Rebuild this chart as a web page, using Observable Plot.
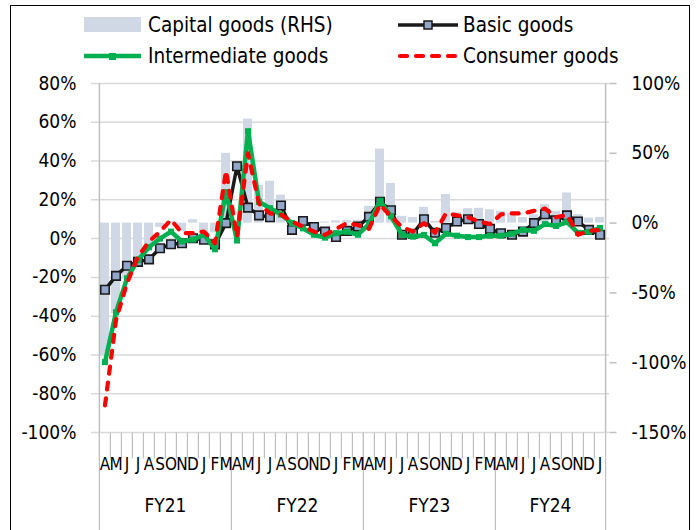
<!DOCTYPE html>
<html><head><meta charset="utf-8">
<script src="https://cdn.jsdelivr.net/npm/d3@7"></script>
<script src="https://cdn.jsdelivr.net/npm/@observablehq/plot@0.6"></script>
<style>
body{margin:0;background:#fff;}
#wrap{position:relative;width:699px;height:530px;overflow:hidden;font-family:"Liberation Sans Narrow","Arial Narrow","DejaVu Sans Condensed",sans-serif;}
#frame{position:absolute;left:10px;top:5px;width:680px;height:560px;border:1px solid #000;box-sizing:border-box;}
#chart{position:absolute;left:0;top:0;}
#legend{position:absolute;left:0;top:0;}
</style></head><body>
<div id="wrap"><div id="frame"></div><div id="chart"></div><svg id="legend" width="699" height="75"></svg></div>
<script>
// ---- data ----
const months = [
 "2020-04","2020-05","2020-06","2020-07","2020-08","2020-09","2020-10","2020-11","2020-12","2021-01","2021-02","2021-03",
 "2021-04","2021-05","2021-06","2021-07","2021-08","2021-09","2021-10","2021-11","2021-12","2022-01","2022-02","2022-03",
 "2022-04","2022-05","2022-06","2022-07","2022-08","2022-09","2022-10","2022-11","2022-12","2023-01","2023-02","2023-03",
 "2023-04","2023-05","2023-06","2023-07","2023-08","2023-09","2023-10","2023-11","2023-12","2024-01"];
const monthLabels = ["A","M","J","J","A","S","O","N","D","J","F","M",
 "A","M","J","J","A","S","O","N","D","J","F","M",
 "A","M","J","J","A","S","O","N","D","J","F","M",
 "A","M","J","J","A","S","O","N","D","J"];
const fiscalYears = ["FY21","FY22","FY23","FY24"];
const fiscalYearMonths = [12,12,12,10];
// Capital goods (RHS), % YoY
const capitalGoods = [-95,-65,-40,-26,-18,-3,1,-6,2.4,-9,-7,50,
 null,74.5,27,30,20,-1,0.5,-1,0.8,1.7,1.7,2,
 12,53,28.4,4.8,4,11.3,1.2,20.5,7.5,10.4,10.6,9.6,
 8.4,7,4,6,13.2,8.4,21.6,6,3.6,4.1];
// Basic goods (LHS)
const basicGoods = [-26.4,-19.2,-14,-12,-10.7,-5,-2.9,-2.4,0.2,-0.6,-3,8,
 37.3,16,12,11,17.1,4.5,9.1,6,3.6,0.8,4,6.2,
 11.2,19,14.6,2,2.5,10,3,5.5,8.8,10,7.5,5,
 2.8,2,3.6,8,12.6,9.5,12,8.8,4.5,2];
// Intermediate goods (LHS)
const intermediateGoods = [-63.7,-38,-20.5,-11,-4.5,0,3.6,-1.5,-0.5,2,-5.5,24,
 -1,55.4,19,15.7,12.4,8,5.3,2,0.5,2.8,3.6,2,
 7.5,19.5,11.5,2,1,1.9,-2.4,2.5,1.5,0.8,0.8,1.5,
 1.5,2.5,4.5,4,7.5,6.5,8.5,3,3.5,5.5];
// Consumer goods (LHS)
const consumerGoods = [-86,-42,-23,-9.3,-1.5,3.6,9.7,2.8,2.8,3.6,-2.4,35,
 1,44,18,13,12.4,8.8,6.2,3.6,1.9,5,8,7,
 5,17.5,11.4,6,3.6,8,3,13,12,11,8.8,7.5,
 12.5,13,13,14.3,15.5,11,12.3,2,4,4.5];
const leftTicks = [80,60,40,20,0,-20,-40,-60,-80,-100];
const rightTicks = [100,50,0,-50,-100,-150];

// ---- layout ----
const W = 699, H = 530, ML = 95, MR = 90, MT = 83, MB = 98;
const leftDomain = [-100, 80], rightDomain = [-150, 100];
const toLeft = v => leftDomain[0] + (v - rightDomain[0]) * (leftDomain[1]-leftDomain[0]) / (rightDomain[1]-rightDomain[0]);
const n = months.length;
const step = (W - ML - MR) / n;

const rows = months.map((m, i) => ({m, lab: monthLabels[i], cap: capitalGoods[i], basic: basicGoods[i], inter: intermediateGoods[i], cons: consumerGoods[i]}));
let start = 0;
const fy = fiscalYears.map((name, k) => { const s = start; start += fiscalYearMonths[k]; return {name, first: months[s], mid: months[s + fiscalYearMonths[k]/2], end: months[s + fiscalYearMonths[k] - 1]}; });

const font = '"Liberation Sans Narrow","Arial Narrow","DejaVu Sans Condensed",sans-serif';
const barColor = "#d0d8e6", gridColor = "#d9d9d9", axisColor = "#bfbfbf";
const blueGray = "#93a7cb", green = "#00b050", red = "#ff0000", black = "#1a1a1a";

const vline = len => ({draw(ctx){ ctx.moveTo(0,0); ctx.lineTo(0,len); }});
const hline = len => ({draw(ctx){ ctx.moveTo(0,0); ctx.lineTo(len,0); }});

const chart = Plot.plot({
  width: W, height: H, marginLeft: ML, marginRight: MR, marginTop: MT, marginBottom: MB,
  x: {type: "band", domain: months, paddingInner: 0.18, paddingOuter: 0.09, axis: null},
  y: {domain: leftDomain, axis: null},
  style: {fontFamily: font, fontSize: "18px", color: "#000", background: "transparent", overflow: "visible"},
  marks: [
    Plot.ruleY(leftTicks, {stroke: gridColor, strokeWidth: 1.5, insetLeft: -4}),
    Plot.rectY(rows.filter(d => d.cap != null), {x: "m", y1: () => toLeft(0), y2: d => toLeft(d.cap), fill: barColor}),
    // left axis line
    Plot.ruleX([months[0]], {dx: -step/2, stroke: axisColor, strokeWidth: 1.5}),
    // right axis line + ticks
    Plot.ruleX([months[n-1]], {dx: step/2, stroke: axisColor, strokeWidth: 1.5}),
    Plot.dot(rightTicks, {y: d => toLeft(d), frameAnchor: "right", symbol: hline(7), stroke: axisColor, strokeWidth: 1.5}),
    // month dividers & fiscal-year separators below the plot
    Plot.dot(months, {x: d => d, frameAnchor: "bottom", dx: -step/2, symbol: vline(26), stroke: axisColor, strokeWidth: 1.2}),
    Plot.dot(fy, {x: "first", frameAnchor: "bottom", dx: -step/2, symbol: vline(100), stroke: axisColor, strokeWidth: 1.2}),
    Plot.dot([months[n-1]], {x: d => d, frameAnchor: "bottom", dx: step/2, symbol: vline(100), stroke: axisColor, strokeWidth: 1.2}),
    // series
    Plot.line(rows, {x: "m", y: "basic", stroke: black, strokeWidth: 3.5}),
    Plot.dot(rows, {x: "m", y: "basic", symbol: "square", r: 4.8, fill: blueGray, stroke: black, strokeWidth: 1.6}),
    Plot.line(rows, {x: "m", y: "inter", stroke: green, strokeWidth: 4.5}),
    Plot.dot(rows, {x: "m", y: "inter", symbol: "square", r: 3.4, fill: green}),
    Plot.line(rows, {x: "m", y: "cons", stroke: red, strokeWidth: 4.2, strokeDasharray: "7,9", strokeLinecap: "round"}),
    // axis labels
    Plot.text(leftTicks, {y: d => d, text: d => d + "%", frameAnchor: "left", textAnchor: "end", dx: -19, fontSize: 19}),
    Plot.text(rightTicks, {y: d => toLeft(d), text: d => d + "%", frameAnchor: "right", textAnchor: "start", dx: 22, fontSize: 19}),
    Plot.text(rows, {x: "m", text: "lab", frameAnchor: "bottom", dy: 37, fontSize: 17}),
    Plot.text(fy, {x: "mid", text: "name", frameAnchor: "bottom", dx: -step/2, dy: 79, fontSize: 19})
  ]
});
document.getElementById("chart").appendChild(chart);

// ---- legend ----
const lg = d3.select("#legend").style("font-family", font).style("font-size", "20.5px");
lg.append("rect").attr("x", 84).attr("y", 17).attr("width", 57).attr("height", 15).attr("fill", barColor);
lg.append("text").attr("x", 148).attr("y", 25).attr("dominant-baseline", "central").text("Capital goods (RHS)");
lg.append("line").attr("x1", 398).attr("x2", 458).attr("y1", 25).attr("y2", 25).attr("stroke", black).attr("stroke-width", 3.5);
lg.append("rect").attr("x", 424).attr("y", 21).attr("width", 8).attr("height", 8).attr("fill", blueGray).attr("stroke", black).attr("stroke-width", 1.5);
lg.append("text").attr("x", 463).attr("y", 25).attr("dominant-baseline", "central").text("Basic goods");
lg.append("line").attr("x1", 84).attr("x2", 141).attr("y1", 56).attr("y2", 56).attr("stroke", green).attr("stroke-width", 4.5);
lg.append("rect").attr("x", 109).attr("y", 53).attr("width", 7).attr("height", 7).attr("fill", green);
lg.append("text").attr("x", 148).attr("y", 56).attr("dominant-baseline", "central").text("Intermediate goods");
lg.append("line").attr("x1", 400).attr("x2", 456).attr("y1", 56).attr("y2", 56).attr("stroke", red).attr("stroke-width", 4.2).attr("stroke-dasharray", "7,9").attr("stroke-linecap", "round");
lg.append("text").attr("x", 463).attr("y", 56).attr("dominant-baseline", "central").text("Consumer goods");
</script>
</body></html>
